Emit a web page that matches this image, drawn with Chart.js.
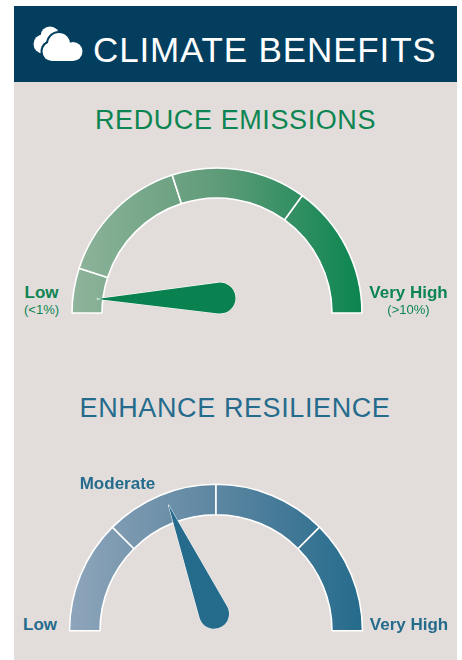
<!DOCTYPE html>
<html>
<head>
<meta charset="utf-8">
<title>Climate Benefits</title>
<script src="https://cdn.jsdelivr.net/npm/chart.js@4/dist/chart.umd.min.js"></script>
<style>
html, body { margin: 0; padding: 0; background: #fff; }
body { width: 462px; height: 660px; position: relative; overflow: hidden; font-family: "Liberation Sans", Arial, sans-serif; }
#panel { position: absolute; left: 14px; top: 82px; width: 443px; height: 578px; background: #e2dddb; }
#header { position: absolute; left: 14px; top: 6px; width: 443px; height: 76px; background: #033e5f; }
#icon { position: absolute; left: 33px; top: 26px; }
.t { position: absolute; white-space: nowrap; line-height: 1; }
.c { transform: translateX(-50%); }
canvas { position: absolute; }
.green { color: #0d8552; }
.blue { color: #256b8c; }
.sec { font-size: 27px; letter-spacing: 0.6px; }
.lab { font-size: 17px; font-weight: bold; }
.sub { font-size: 13px; }
</style>
</head>
<body>
<div id="panel"></div>
<div id="header"></div>
<svg id="icon" width="50" height="37" viewBox="0 0 50 37">
  <g fill="#fff">
    <circle cx="10" cy="18" r="9.5"/>
    <circle cx="17" cy="10" r="9.5"/>
  </g>
  <g fill="#033e5f">
    <circle cx="19" cy="25.5" r="11.5"/>
    <circle cx="26" cy="18" r="13"/>
  </g>
  <g fill="#fff">
    <circle cx="19" cy="25.5" r="9.5"/>
    <circle cx="26" cy="18" r="11"/>
    <circle cx="40" cy="25.5" r="9.5"/>
    <rect x="19" y="22" width="21" height="13"/>
  </g>
</svg>
<div class="t" style="left:93px;top:32px;font-size:35px;letter-spacing:0.85px;color:#fff;" id="mainTitle">CLIMATE BENEFITS</div>

<div class="t c green sec" style="left:235.5px;top:107px;" id="title1"></div>
<canvas id="gauge1" width="310" height="159" style="left:62px;top:161px;"></canvas>
<div class="t c green lab" style="left:41.5px;top:284px;" id="g1low"></div>
<div class="t c green sub" style="left:41.5px;top:303px;" id="g1lowSub"></div>
<div class="t c green lab" style="left:408.5px;top:284px;" id="g1high"></div>
<div class="t c green sub" style="left:408.5px;top:303px;" id="g1highSub"></div>

<div class="t c blue sec" style="left:235px;top:395px;" id="title2"></div>
<canvas id="gauge2" width="310" height="161" style="left:60.5px;top:477px;"></canvas>
<div class="t c blue lab" style="left:40px;top:616px;" id="g2low"></div>
<div class="t c blue lab" style="left:117.5px;top:475px;" id="g2mid"></div>
<div class="t c blue lab" style="left:409px;top:616px;" id="g2high"></div>

<script>
// gauge segments (share of the half circle)
const emissionLevels = ["Low", "Moderate", "High", "Very High"];
const emissionSegments = [10, 30, 30, 30];
const emissionNeedle = 3.7;
const emissionRange = ["(<1%)", "(>10%)"];

const resilienceLevels = ["Low", "Moderate", "High", "Very High"];
const resilienceSegments = [25, 25, 25, 25];
const resilienceNeedle = 38.5;

document.getElementById("title1").textContent = "REDUCE EMISSIONS";
document.getElementById("g1low").textContent = emissionLevels[0];
document.getElementById("g1high").textContent = emissionLevels[3];
document.getElementById("g1lowSub").textContent = emissionRange[0];
document.getElementById("g1highSub").textContent = emissionRange[1];
document.getElementById("title2").textContent = "ENHANCE RESILIENCE";
document.getElementById("g2low").textContent = resilienceLevels[0];
document.getElementById("g2mid").textContent = resilienceLevels[1];
document.getElementById("g2high").textContent = resilienceLevels[3];

// needle is drawn from its value, on top of the arcs
const needlePlugin = {
    id: "needle",
    afterDatasetsDraw(chart, args, opts){
        const arc = chart.getDatasetMeta(0).data[0];
        const total = chart.data.datasets[0].data.reduce((a, b) => a + b, 0);
        const ang = Math.PI + opts.value / total * Math.PI;
        const tipX = arc.x + Math.cos(ang) * opts.length;
        const tipY = arc.y + Math.sin(ang) * opts.length;
        const px = arc.x + opts.pivotX;
        const py = arc.y + opts.pivotY;
        const d = Math.hypot(tipX - px, tipY - py);
        const dir = Math.atan2(tipY - py, tipX - px);
        const spread = Math.acos(opts.radius / d);
        const ctx = chart.ctx;
        ctx.save();
        ctx.beginPath();
        ctx.moveTo(tipX, tipY);
        ctx.arc(px, py, opts.radius, dir + spread, dir - spread);
        ctx.closePath();
        ctx.fillStyle = opts.color;
        ctx.strokeStyle = "#ffffff";
        ctx.lineWidth = 1;
        ctx.stroke();
        ctx.fill();
        ctx.restore();
    }
};

function criarGauge(id, labels, valores, cores, raio, corte, agulha){
    return new Chart(document.getElementById(id), {
        type: "doughnut",
        data: {
            labels: labels,
            datasets: [{
                data: valores,
                backgroundColor(context){
                    const w = context.chart.width;
                    const g = context.chart.ctx.createLinearGradient(w / 2 - raio, 0, w / 2 + raio, 0);
                    g.addColorStop(0, cores[0]);
                    g.addColorStop(0.5, cores[1]);
                    g.addColorStop(1, cores[2]);
                    return g;
                },
                borderColor: "#ffffff",
                borderWidth: 1.6,
                borderRadius: 0,
                borderAlign: "center"
            }]
        },
        options: {
            responsive: false,
            animation: false,
            rotation: -90,
            circumference: 180,
            radius: raio,
            cutout: (corte / raio * 100) + "%",
            layout: { padding: 0 },
            plugins: {
                legend: { display: false },
                tooltip: { enabled: false },
                needle: agulha
            }
        },
        plugins: [needlePlugin]
    });
}

criarGauge("gauge1", emissionLevels, emissionSegments, ["#8fb49b", "#5f9b79", "#0b8550"], 145, 115,
    { value: emissionNeedle, length: 121, pivotX: 3, pivotY: -15, radius: 15.5, color: "#09824f" });

criarGauge("gauge2", resilienceLevels, resilienceSegments, ["#8ea5ba", "#5d86a1", "#256b8c"], 146.5, 116,
    { value: resilienceNeedle, length: 134.7, pivotX: -2, pivotY: -17, radius: 15, color: "#256b8c" });
</script>
</body>
</html>
